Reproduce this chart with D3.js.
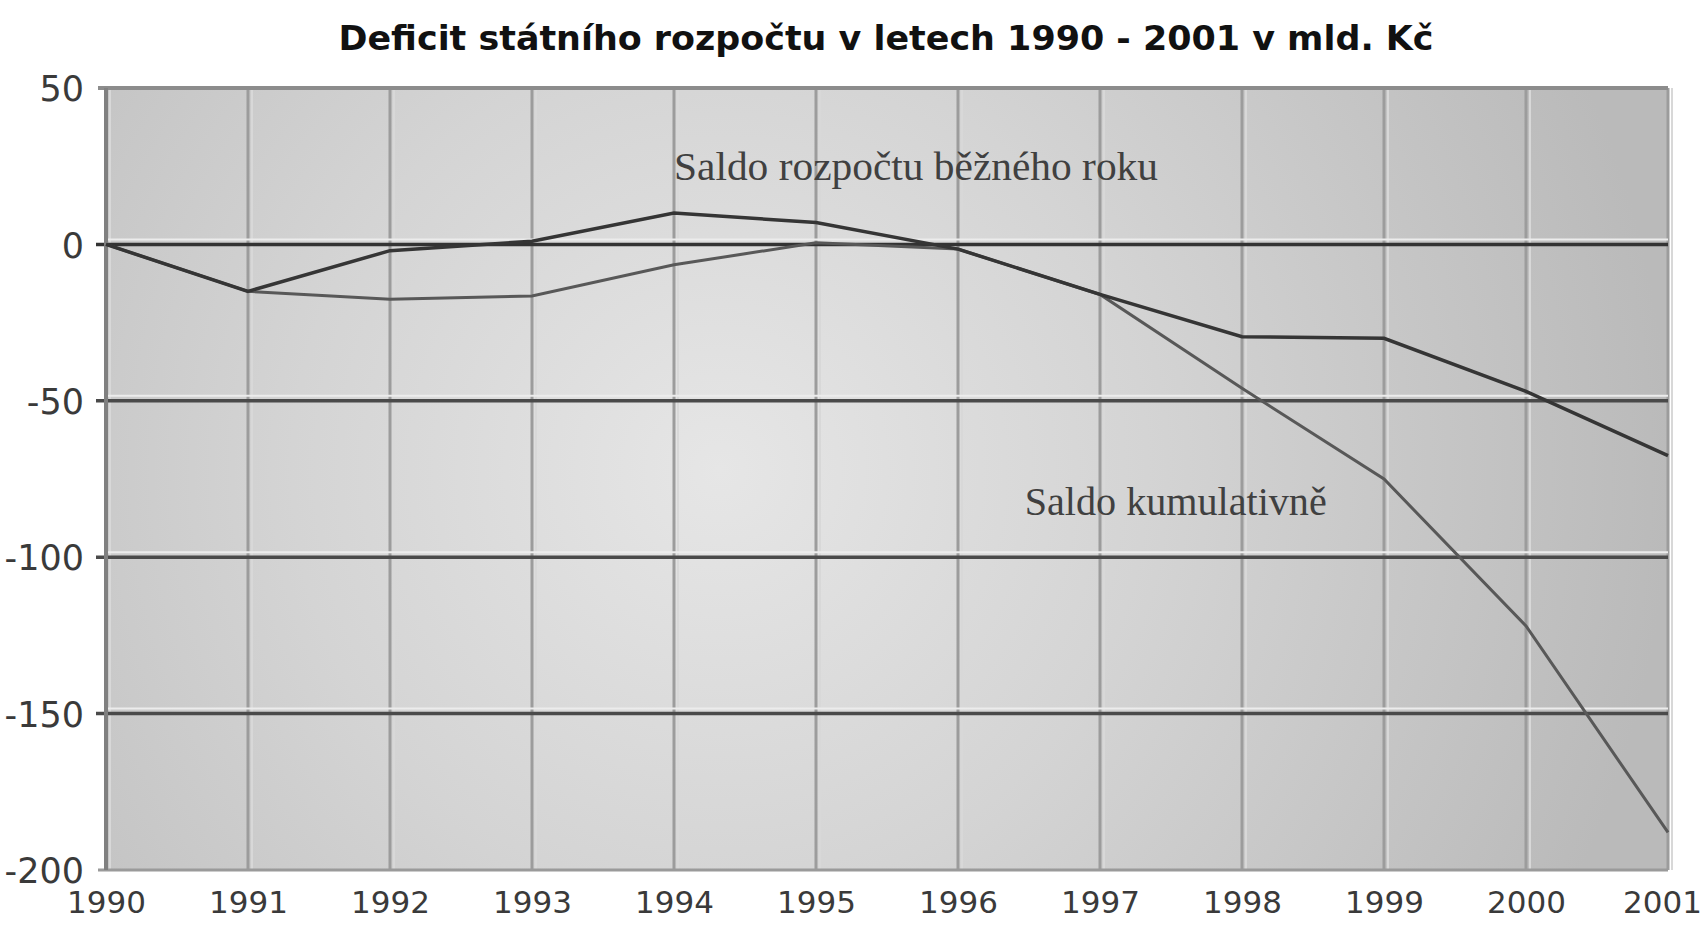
<!DOCTYPE html>
<html>
<head>
<meta charset="utf-8">
<script src="https://cdn.jsdelivr.net/npm/d3@7"></script>
<style>
  html, body { margin: 0; padding: 0; background: #ffffff; }
  svg { display: block; }
</style>
</head>
<body>
<svg id="chart" width="1706" height="928"></svg>
<script>
// ---- data ----
const years = [1990, 1991, 1992, 1993, 1994, 1995, 1996, 1997, 1998, 1999, 2000, 2001];
const saldoBezneho = [0, -15, -2, 1, 10, 7, -1.5, -16, -29.5, -30, -47, -67.5];
const saldoKumulativne = [0, -15, -17.5, -16.5, -6.5, 0.5, -1.5, -16, -46, -75, -122, -188];
const yTicks = [50, 0, -50, -100, -150, -200];
const titleText = "Deficit státního rozpočtu v letech 1990 - 2001 v mld. Kč";
const labelBezneho = "Saldo rozpočtu běžného roku";
const labelKumul = "Saldo kumulativně";

// ---- layout ----
const W = 1706, H = 928;
const plot = { left: 106, right: 1668, top: 88, bottom: 870 };
const svg = d3.select("#chart");

const x = d3.scaleLinear().domain([1990, 2001]).range([plot.left, plot.right]);
const y = d3.scaleLinear().domain([-200, 50]).range([plot.bottom, plot.top]);

// background gradient
const defs = svg.append("defs");
const rg = defs.append("radialGradient")
  .attr("id", "bg").attr("gradientUnits", "userSpaceOnUse")
  .attr("cx", 720).attr("cy", 470).attr("r", 950);
rg.append("stop").attr("offset", "0%").attr("stop-color", "#e6e6e6");
rg.append("stop").attr("offset", "45%").attr("stop-color", "#d4d4d4");
rg.append("stop").attr("offset", "100%").attr("stop-color", "#bababa");

svg.append("rect")
  .attr("x", plot.left).attr("y", plot.top)
  .attr("width", plot.right - plot.left).attr("height", plot.bottom - plot.top)
  .attr("fill", "url(#bg)");

// vertical gridlines
const vg = svg.append("g");
vg.selectAll("line.vh").data(years).join("line")
  .attr("x1", d => x(d) + 4).attr("x2", d => x(d) + 4)
  .attr("y1", plot.top).attr("y2", plot.bottom)
  .attr("stroke", "#d8d8d8").attr("stroke-width", 2);
vg.selectAll("line.v").data(years).join("line")
  .attr("x1", d => x(d)).attr("x2", d => x(d))
  .attr("y1", plot.top).attr("y2", plot.bottom)
  .attr("stroke", "#9c9c9c").attr("stroke-width", 3);

// horizontal gridlines
const hg = svg.append("g");
const innerTicks = yTicks.filter(t => t < 50 && t > -200);
hg.selectAll("line.hh").data(innerTicks).join("line")
  .attr("x1", plot.left).attr("x2", plot.right)
  .attr("y1", d => y(d) - 5).attr("y2", d => y(d) - 5)
  .attr("stroke", "#ececec").attr("stroke-width", 2);
hg.selectAll("line.h").data(innerTicks).join("line")
  .attr("x1", plot.left - 10).attr("x2", plot.right)
  .attr("y1", d => y(d)).attr("y2", d => y(d))
  .attr("stroke", d => d === 0 ? "#333333" : "#4a4a4a").attr("stroke-width", 3.5);

// frame (top, left, bottom)
svg.append("line").attr("x1", plot.left - 8).attr("x2", plot.right)
  .attr("y1", y(50)).attr("y2", y(50)).attr("stroke", "#8c8c8c").attr("stroke-width", 4);
svg.append("line").attr("x1", plot.left - 8).attr("x2", plot.right)
  .attr("y1", y(-200)).attr("y2", y(-200)).attr("stroke", "#9a9a9a").attr("stroke-width", 3);
svg.append("line").attr("x1", plot.left).attr("x2", plot.left)
  .attr("y1", plot.top).attr("y2", plot.bottom).attr("stroke", "#808080").attr("stroke-width", 4);

// y axis labels
const yAxis = d3.axisLeft(y).tickValues(yTicks).tickSize(0).tickPadding(0)
  .tickFormat(d => String(d).replace("\u2212", "-"));
const ya = svg.append("g").attr("transform", `translate(${plot.left - 22},0)`).call(yAxis);
ya.select(".domain").remove();
ya.selectAll("text")
  .attr("font-family", "DejaVu Sans, sans-serif").attr("font-size", 35)
  .attr("fill", "#3a3a3a").attr("dy", "0.36em");

// x axis labels
const xAxis = d3.axisBottom(x).tickValues(years).tickSize(0).tickPadding(0)
  .tickFormat(d3.format("d"));
const xa = svg.append("g").attr("transform", `translate(0,${plot.bottom + 14})`).call(xAxis);
xa.select(".domain").remove();
xa.selectAll("text")
  .attr("font-family", "DejaVu Sans, sans-serif").attr("font-size", 31)
  .attr("fill", "#3a3a3a").attr("dy", "0.95em");
// keep the last label inside the window
xa.selectAll(".tick").filter(d => d === years[years.length - 1]).select("text")
  .attr("dx", -6);

// lines
const line = d3.line().x((d, i) => x(years[i])).y(d => y(d));
svg.append("path").datum(saldoKumulativne)
  .attr("d", line).attr("fill", "none")
  .attr("stroke", "#585858").attr("stroke-width", 3);
svg.append("path").datum(saldoBezneho)
  .attr("d", line).attr("fill", "none")
  .attr("stroke", "#353535").attr("stroke-width", 3.5);

// annotations
svg.append("text")
  .attr("x", x(1994)).attr("y", y(20.5))
  .attr("font-family", "Liberation Serif, serif").attr("font-size", 40)
  .attr("fill", "#404040")
  .attr("textLength", 484).attr("lengthAdjust", "spacingAndGlyphs")
  .text(labelBezneho);
svg.append("text")
  .attr("x", x(1996.47)).attr("y", y(-86.5))
  .attr("font-family", "Liberation Serif, serif").attr("font-size", 40)
  .attr("fill", "#404040")
  .attr("textLength", 302).attr("lengthAdjust", "spacingAndGlyphs")
  .text(labelKumul);

// title
svg.append("text")
  .attr("x", 886).attr("y", 50)
  .attr("text-anchor", "middle")
  .attr("font-family", "DejaVu Sans, sans-serif").attr("font-weight", "bold")
  .attr("font-size", 33).attr("fill", "#111")
  .attr("textLength", 1095).attr("lengthAdjust", "spacingAndGlyphs")
  .text(titleText);
</script>
</body>
</html>
